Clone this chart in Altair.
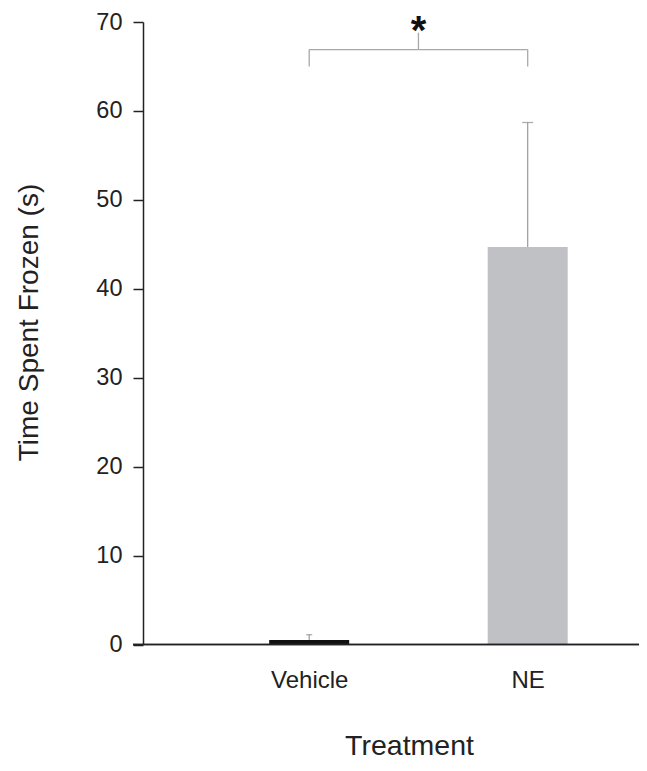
import json
import altair as alt
import pandas as pd

# ---- data ----
categories = ["Vehicle", "NE"]
positions = [1, 2]
means = [0.5, 44.7]
error_upper = [1.1, 58.7]
bar_colors = ["#111111", "#c0c1c4"]
cap_widths = [6, 11]
y_ticks = [0, 10, 20, 30, 40, 50, 60, 70]

# significance bracket (Vehicle vs NE)
bracket_drop = 65.0
bracket_level = 66.9
bracket_top = 68.8
sig_label = "*"

FONT = "Liberation Sans"
INK = "#222222"
W, H = 496, 622.5

df = pd.DataFrame({
    "pos": positions,
    "cat": categories,
    "mean": means,
    "upper": error_upper,
    "color": bar_colors,
    "cap": cap_widths,
})

mid = sum(positions) / len(positions)
legs = pd.DataFrame({"pos": positions, "y": [bracket_drop] * 2, "y2": [bracket_level] * 2})
span = pd.DataFrame({"pos": [positions[0]], "pos2": [positions[1]], "y": [bracket_level]})
stem = pd.DataFrame({"pos": [mid], "y": [bracket_level], "y2": [bracket_top]})
star = pd.DataFrame({"pos": [mid], "y": [bracket_level], "t": [sig_label]})

xscale = alt.Scale(domain=[0.2623, 2.4865], nice=False, zero=False)
yscale = alt.Scale(domain=[0, 70], nice=False)

label_expr = f"{json.dumps(categories)}[datum.value - 1]"

x_axis = alt.Axis(
    values=positions, labelExpr=label_expr, ticks=False, domain=False, grid=False,
    labelPadding=24, labelFontSize=24, labelColor=INK, labelFont=FONT,
    title="Treatment", titleFontSize=28.5, titleFontWeight="normal", titleColor=INK,
    titleFont=FONT, titleX=266, titleY=110, titleBaseline="alphabetic",
)
y_axis = alt.Axis(
    values=y_ticks, tickSize=10, tickColor=INK, tickWidth=1.5, domainColor=INK,
    domainWidth=1.5, grid=False, labelFontSize=23.5, labelColor=INK, labelFont=FONT,
    labelPadding=11, title="Time Spent Frozen (s)", titleFontSize=28,
    titleFontWeight="normal", titleColor=INK, titleFont=FONT, titleX=-106, titleY=300,
    titleBaseline="alphabetic",
)

base = alt.Chart(df)

bars = base.mark_bar(size=80).encode(
    x=alt.X("pos:Q", scale=xscale, axis=x_axis),
    y=alt.Y("mean:Q", scale=yscale, axis=y_axis),
    color=alt.Color("color:N", scale=None),
)

err = base.mark_rule(color="#9a9a9a", strokeWidth=1.2).encode(
    x=alt.X("pos:Q", scale=xscale), y=alt.Y("mean:Q", scale=yscale), y2="upper:Q"
)
caps = base.mark_tick(orient="horizontal", color="#8a8a8a", thickness=1.3).encode(
    x=alt.X("pos:Q", scale=xscale), y=alt.Y("upper:Q", scale=yscale),
    size=alt.Size("cap:Q", scale=None),
)

br_color = "#a8a8a8"
br_legs = alt.Chart(legs).mark_rule(color=br_color, strokeWidth=1.3).encode(
    x=alt.X("pos:Q", scale=xscale), y=alt.Y("y:Q", scale=yscale), y2="y2:Q"
)
br_span = alt.Chart(span).mark_rule(color=br_color, strokeWidth=1.3).encode(
    x=alt.X("pos:Q", scale=xscale), x2="pos2:Q", y=alt.Y("y:Q", scale=yscale)
)
br_stem = alt.Chart(stem).mark_rule(color=br_color, strokeWidth=1.3).encode(
    x=alt.X("pos:Q", scale=xscale), y=alt.Y("y:Q", scale=yscale), y2="y2:Q"
)
br_star = alt.Chart(star).mark_text(
    font=FONT, fontSize=40, fontWeight="bold", color="#111111", baseline="alphabetic",
    align="center", dy=-6,
).encode(x=alt.X("pos:Q", scale=xscale), y=alt.Y("y:Q", scale=yscale), text="t:N")

x_line = alt.Chart(df).mark_rule(color=INK, strokeWidth=1.5).encode(
    x=alt.value(-10), x2=alt.value(W), y=alt.value(H)
)

chart = alt.layer(
    bars, err, caps, br_legs, br_span, br_stem, br_star, x_line
).properties(
    width=W, height=H,
    autosize=alt.AutoSizeParams(type="none"),
    padding={"left": 135, "top": 14, "right": 0, "bottom": 116},
).configure(background="white").configure_view(stroke=None)

chart.save("out.html", embed_options={"renderer": "svg", "actions": False})
